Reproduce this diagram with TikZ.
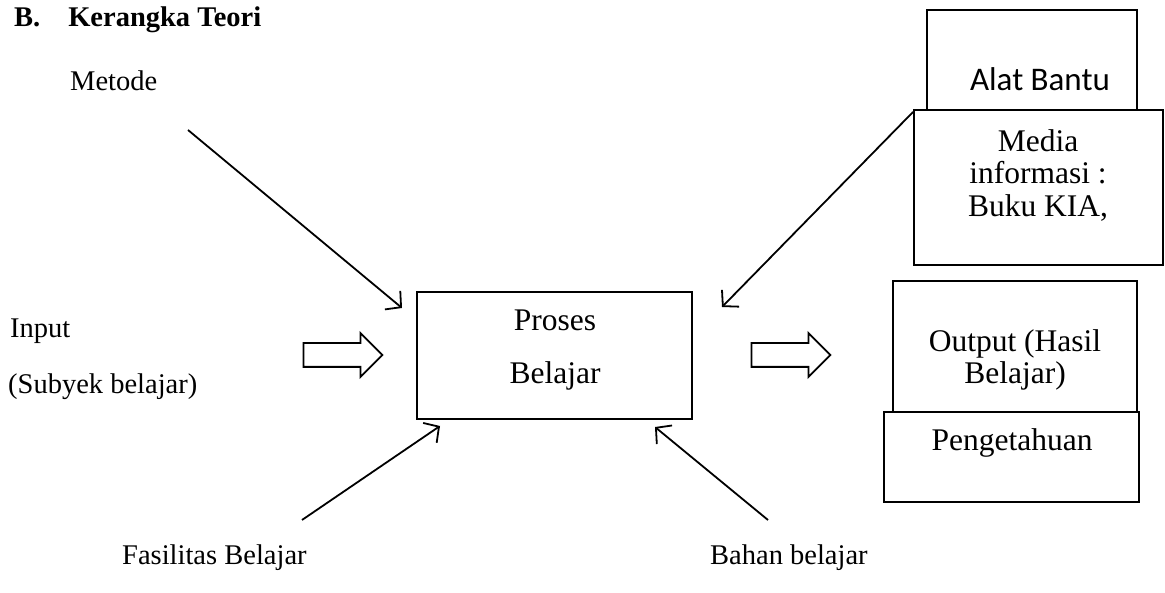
\documentclass[tikz,border=0pt]{standalone}
\usepackage{fontspec}
\setmainfont{Liberation Serif}
\newfontfamily\calibri{Carlito}
\usetikzlibrary{arrows.meta,shapes.arrows}

\begin{document}
\begin{tikzpicture}[
        x=1pt, y=-1pt,
        box/.style={
            rectangle,
            draw=black,
            fill=white,
            line width=2pt,
            inner sep=0pt
        },
        txt/.style={
            anchor=base,
            inner sep=0pt,
            font=\fontsize{31.5}{33}\selectfont
        },
        lbl/.style={
            anchor=base west,
            inner sep=0pt,
            font=\fontsize{28.5}{30}\selectfont
        },
        panah/.style={
            line width=1.8pt,
            -{Straight Barb[length=11pt,width=24pt,line width=1.8pt]}
        },
        kosong/.style={
            single arrow,
            draw=black,
            line width=1.8pt,
            inner xsep=0pt,
            inner ysep=11pt,
            minimum height=79pt,
            minimum width=42pt,
            single arrow head extend=10pt
        }
    ]
        \useasboundingbox (0,0) rectangle (1165,593);

        % Judul
        \node[lbl, font=\fontsize{28.5}{30}\selectfont\bfseries] (judul) at (14,27) {B.\hspace{28pt}Kerangka Teori};

        % Kotak-kotak
        \node[box, minimum width=275pt, minimum height=127pt] (proses) at (554.5,355.5) {};
        \node[box, minimum width=210pt, minimum height=102pt] (alat) at (1032,61) {};
        \node[txt, font=\calibri\fontsize{33}{35}\selectfont] (alatTxt) at (1040,91) {Alat Bantu};
        \node[box, minimum width=249pt, minimum height=155pt] (media) at (1038.5,187.5) {};
        \node[box, minimum width=244pt, minimum height=131pt] (output) at (1015,346.5) {};
        \node[box, minimum width=255pt, minimum height=90pt] (penget) at (1011.5,457) {};

        % Teks di dalam kotak
        \node[txt] (proses1) at (555,331) {Proses};
        \node[txt] (proses2) at (555,384) {Belajar};
        \node[txt] (media1) at (1038,152) {Media};
        \node[txt] (media2) at (1038,184) {informasi :};
        \node[txt] (media3) at (1038,217) {Buku KIA,};
        \node[txt] (output1) at (1015,352) {Output (Hasil};
        \node[txt] (output2) at (1015,384) {Belajar)};
        \node[txt] (penget1) at (1012,450) {Pengetahuan};

        % Label di luar kotak
        \node[lbl] (metode) at (70,91) {Metode};
        \node[lbl] (input) at (10,338) {Input};
        \node[lbl] (subyek) at (8,394) {(Subyek belajar)};
        \node[lbl] (fasilitas) at (122,564) {Fasilitas Belajar};
        \node[lbl] (bahan) at (710,564) {Bahan belajar};

        % Panah kosong (input -> proses -> output)
        \node[kosong] (kosong1) at (337,355) {};
        \node[kosong] (kosong2) at (785,355) {};

        % Ujung-ujung panah
        \coordinate (metodeA) at (188,130);
        \coordinate (metodeB) at (402,308);
        \coordinate (mediaB) at (722,307);
        \coordinate (fasA) at (302,520);
        \coordinate (fasB) at (440,426);
        \coordinate (bahanA) at (768,520);
        \coordinate (bahanB) at (655,427);

        \draw[panah] (metodeA) -- (metodeB);
        \draw[panah] ([yshift=-3pt]media.north west) -- (mediaB);
        \draw[panah] (fasA) -- (fasB);
        \draw[panah] (bahanA) -- (bahanB);
    \end{tikzpicture}
\end{document}
